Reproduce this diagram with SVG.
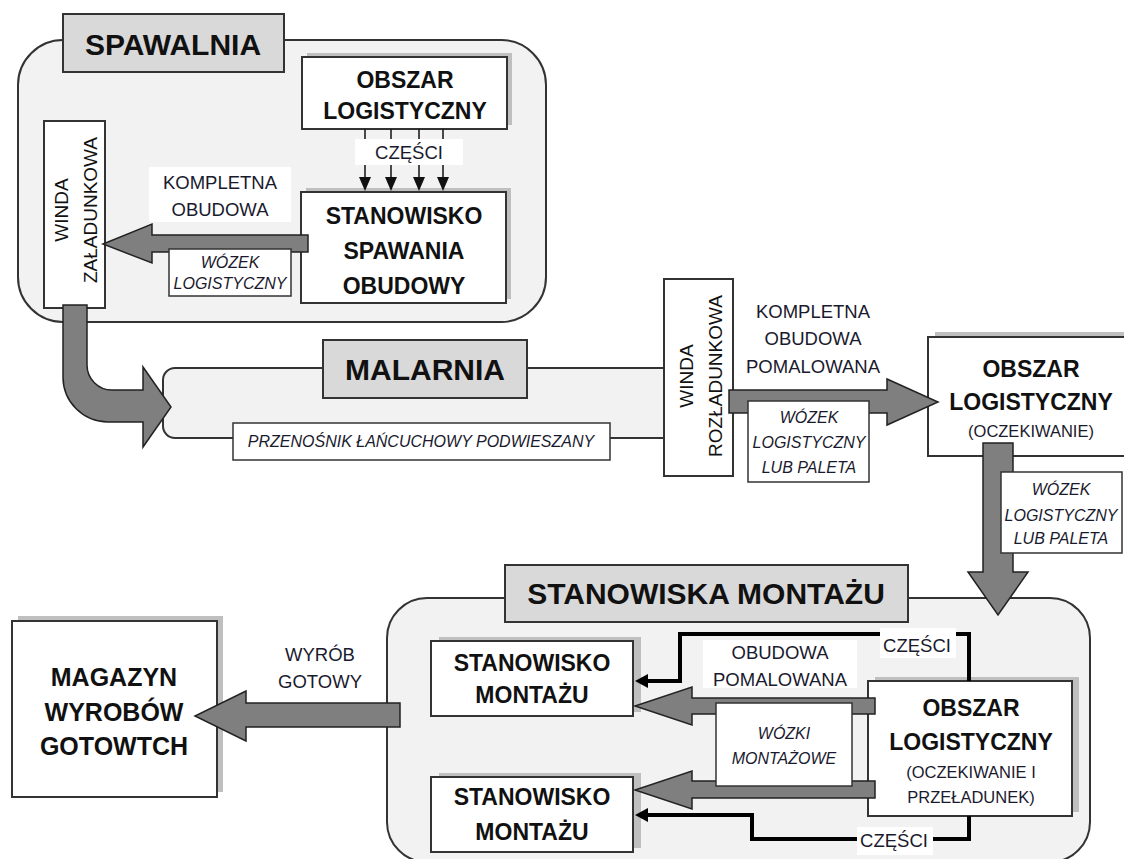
<svg xmlns="http://www.w3.org/2000/svg" width="1124" height="859" viewBox="0 0 1124 859">
<defs>
<style>
.cont{fill:#f2f2f2;stroke:#333;stroke-width:2}
.title{fill:#d9d9d9;stroke:#333;stroke-width:2}
.box{fill:#fff;stroke:#333;stroke-width:2}
.sh{fill:#bfbfbf}
.wl{fill:#fff}
.lb{fill:#fff;stroke:#333;stroke-width:1.5}
.ga{fill:#7f7f7f;stroke:#222;stroke-width:1.5}
.thin{fill:none;stroke:#111;stroke-width:1.5}
.thick{fill:none;stroke:#000;stroke-width:4}
text{font-family:"Liberation Sans",Arial,sans-serif;text-anchor:middle;fill:#111}
.h{font-size:30px;font-weight:bold}
.b{font-size:23px;font-weight:bold}
.r{font-size:18.5px;fill:#1a1a2e}
.s{font-size:16.5px;fill:#1a1a2e}
.w{font-size:19px;fill:#111}
.i{font-size:16px;font-style:italic;fill:#1a1a2e}
</style>
<marker id="ah" markerUnits="userSpaceOnUse" markerWidth="14" markerHeight="12" refX="0" refY="6" orient="auto"><path d="M0,0 L14,6 L0,12 z" fill="#111"/></marker>
<marker id="ahb" markerUnits="userSpaceOnUse" markerWidth="14" markerHeight="14" refX="2" refY="7" orient="auto"><path d="M0,0 L13,7 L0,14 z" fill="#000"/></marker>
</defs>
<rect width="1124" height="859" fill="#fff"/>

<!-- containers -->
<g id="spawalnia">
<rect class="cont" x="18" y="40" width="528" height="282" rx="45"/>
<rect class="title" x="63" y="14" width="221" height="58"/>
<text class="h" x="173" y="55">SPAWALNIA</text>
</g>
<g id="malarnia">
<rect class="cont" x="163" y="368" width="520" height="70" rx="12"/>
<rect class="title" x="323" y="340" width="204" height="58"/>
<text class="h" x="425" y="380">MALARNIA</text>
</g>
<g id="stanowiska-montazu">
<rect class="cont" x="387" y="598" width="703" height="264" rx="40"/>
<rect class="title" x="505" y="565" width="403" height="57"/>
<text class="h" x="706" y="604">STANOWISKA MONTAŻU</text>
</g>

<!-- nodes -->
<g id="obszar-spawalnia">
<rect class="sh" x="307" y="53" width="205" height="72"/>
<rect class="box" x="302" y="57" width="205" height="72"/>
<text class="b" x="405" y="88">OBSZAR</text>
<text class="b" x="405" y="119">LOGISTYCZNY</text>
</g>
<g id="stanowisko-spawania">
<rect class="sh" x="306" y="188" width="205" height="111"/>
<rect class="box" x="301" y="192" width="205" height="111"/>
<text class="b" x="404" y="224">STANOWISKO</text>
<text class="b" x="404" y="259">SPAWANIA</text>
<text class="b" x="404" y="294">OBUDOWY</text>
</g>
<g id="winda-zaladunkowa">
<rect class="box" x="44" y="121" width="61" height="187"/>
<text class="w" x="68" y="210" transform="rotate(-90 68 210)">WINDA</text>
<text class="w" x="97" y="210" transform="rotate(-90 97 210)">ZAŁADUNKOWA</text>
</g>
<g id="winda-rozladunkowa">
<rect class="box" x="664" y="279" width="69" height="197"/>
<text class="w" x="693" y="376" transform="rotate(-90 693 376)">WINDA</text>
<text class="w" x="722" y="376" transform="rotate(-90 722 376)">ROZŁADUNKOWA</text>
</g>
<g id="obszar-oczekiwanie">
<rect class="sh" x="935" y="332" width="206" height="119"/>
<rect class="box" x="928" y="337" width="206" height="119"/>
<text class="b" x="1031" y="377">OBSZAR</text>
<text class="b" x="1031" y="410">LOGISTYCZNY</text>
<text class="s" x="1031" y="437">(OCZEKIWANIE)</text>
</g>
<g id="magazyn">
<rect class="sh" x="18" y="616" width="205" height="176"/>
<rect class="box" x="12" y="621" width="205" height="176"/>
<text class="b" x="114" y="686" style="font-size:25px">MAGAZYN</text>
<text class="b" x="114" y="721" style="font-size:25px">WYROBÓW</text>
<text class="b" x="114" y="755" style="font-size:25px">GOTOWTCH</text>
</g>
<g id="stanowisko-montazu-1">
<rect class="sh" x="439" y="637" width="202" height="75"/>
<rect class="box" x="431" y="641" width="202" height="75"/>
<text class="b" x="532" y="671">STANOWISKO</text>
<text class="b" x="532" y="703">MONTAŻU</text>
</g>
<g id="stanowisko-montazu-2">
<rect class="sh" x="439" y="773" width="202" height="75"/>
<rect class="box" x="431" y="777" width="202" height="75"/>
<text class="b" x="532" y="805">STANOWISKO</text>
<text class="b" x="532" y="840">MONTAŻU</text>
</g>
<g id="obszar-montaz">
<rect class="sh" x="875" y="677" width="204" height="135"/>
<rect class="box" x="868" y="681" width="204" height="135"/>
<text class="b" x="971" y="716">OBSZAR</text>
<text class="b" x="971" y="750">LOGISTYCZNY</text>
<text class="s" x="971" y="778">(OCZEKIWANIE I</text>
<text class="s" x="971" y="803">PRZEŁADUNEK)</text>
</g>

<!-- connectors -->
<g id="connectors">
<path class="thin" d="M365,129 V177" marker-end="url(#ah)"/>
<path class="thin" d="M391,129 V177" marker-end="url(#ah)"/>
<path class="thin" d="M419,129 V177" marker-end="url(#ah)"/>
<path class="thin" d="M443,129 V177" marker-end="url(#ah)"/>
<polygon class="ga" points="308,235 152,235 152,224 103,244 152,263 152,252 308,252"/>
<path class="ga" d="M63,305 H87 V365 A25,25 0 0 0 112,390 H143 V367 L171,407 L143,447 V422 H108 A45,45 0 0 1 63,377 Z"/>
<polygon class="ga" points="729,390 887,390 887,379 938,402 887,425 887,413 729,413"/>
<polygon class="ga" points="983,443 1013,443 1013,572 1028,572 998,615 968,572 983,572"/>
<polygon class="ga" points="400,703 246,703 246,691 195,716 246,741 246,727 400,727"/>
<polygon class="ga" points="875,698 692,698 692,687 635,706 692,725 692,714 875,714"/>
<polygon class="ga" points="875,781 692,781 692,771 635,790 692,809 692,798 875,798"/>
<path class="thick" d="M969,681 V634 H680 V681 H646" marker-end="url(#ahb)"/>
<path class="thick" d="M969,816 V839 H752 V815 H646" marker-end="url(#ahb)"/>
</g>

<!-- connector labels -->
<g id="labels">
<rect class="wl" x="355" y="139" width="108" height="26"/>
<text class="r" x="409" y="159">CZĘŚCI</text>
<rect class="wl" x="149" y="167" width="142" height="55"/>
<text class="r" x="220" y="189">KOMPLETNA</text>
<text class="r" x="220" y="216">OBUDOWA</text>
<rect class="lb" x="169" y="249" width="122" height="47"/>
<text class="i" x="230" y="268">WÓZEK</text>
<text class="i" x="230" y="289">LOGISTYCZNY</text>
<rect class="lb" x="233" y="423" width="377" height="37"/>
<text class="i" x="421" y="447">PRZENOŚNIK ŁAŃCUCHOWY PODWIESZANY</text>
<text class="r" x="813" y="318">KOMPLETNA</text>
<text class="r" x="813" y="345">OBUDOWA</text>
<text class="r" x="813" y="373">POMALOWANA</text>
<rect class="lb" x="748" y="401" width="121" height="81"/>
<text class="i" x="809" y="423">WÓZEK</text>
<text class="i" x="809" y="448">LOGISTYCZNY</text>
<text class="i" x="809" y="473">LUB PALETA</text>
<rect class="lb" x="1001" y="472" width="121" height="81"/>
<text class="i" x="1061" y="495">WÓZEK</text>
<text class="i" x="1061" y="521">LOGISTYCZNY</text>
<text class="i" x="1061" y="544">LUB PALETA</text>
<text class="r" x="320" y="661">WYRÓB</text>
<text class="r" x="320" y="688">GOTOWY</text>
<rect class="wl" x="880" y="628" width="76" height="30"/>
<text class="r" x="917" y="652">CZĘŚCI</text>
<rect class="wl" x="857" y="827" width="76" height="28"/>
<text class="r" x="894" y="847">CZĘŚCI</text>
<rect class="wl" x="703" y="640" width="154" height="48"/>
<text class="r" x="780" y="659">OBUDOWA</text>
<text class="r" x="780" y="686">POMALOWANA</text>
<rect class="lb" x="716" y="703" width="136" height="83"/>
<text class="i" x="784" y="739">WÓZKI</text>
<text class="i" x="784" y="764">MONTAŻOWE</text>
</g>
</svg>
